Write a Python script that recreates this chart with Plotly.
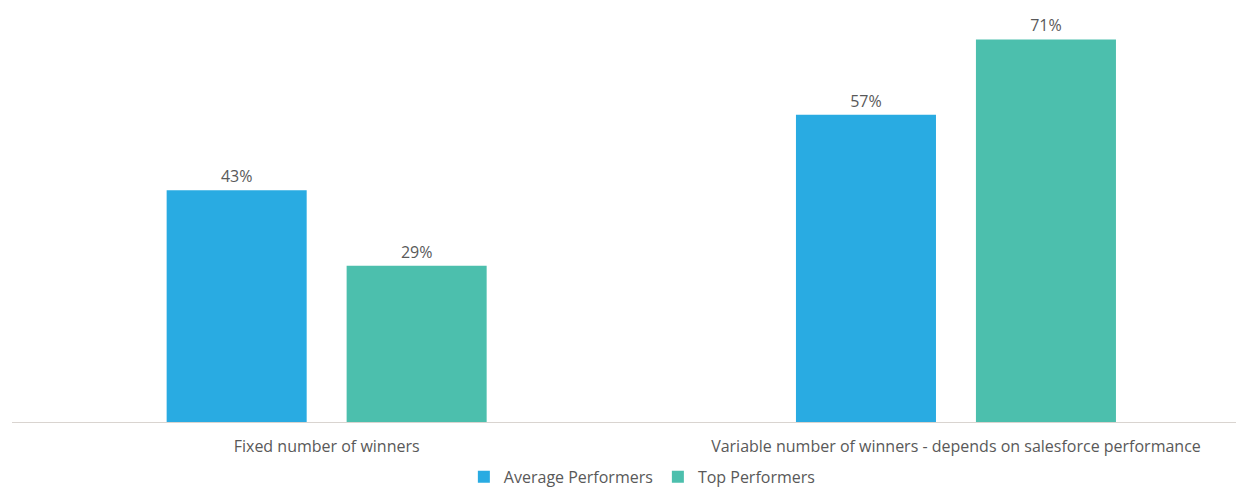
import plotly.graph_objects as go

categories = ["Fixed number of winners",
              "Variable number of winners - depends on salesforce performance"]
series_names = ["Average Performers", "Top Performers"]
average_values = [43, 57]
top_values = [29, 71]
colors = ["#29abe2", "#4cbfad"]

text_color = "#595959"
font_family = "Open Sans, Lato, sans-serif"

fig = go.Figure()
for name, vals, col in zip(series_names, [average_values, top_values], colors):
    fig.add_trace(go.Bar(
        name=name,
        x=categories,
        y=vals,
        marker=dict(color=col, line=dict(width=0)),
        text=[f"{v}%" for v in vals],
        textposition="outside",
        textfont=dict(size=16, color=text_color, family=font_family),
        cliponaxis=False,
    ))

fig.update_layout(
    width=1236,
    height=490,
    margin=dict(l=12, r=0, t=20, b=68, autoexpand=False),
    paper_bgcolor="white",
    plot_bgcolor="white",
    barmode="group",
    bargap=0.428,
    bargroupgap=0.222,
    font=dict(family=font_family, size=16, color=text_color),
    xaxis=dict(
        type="category",
        range=[-0.5, 1.445],
        showline=True,
        linecolor="#d9d4d0",
        linewidth=1,
        ticks="",
        ticklabelstandoff=10,
        automargin=False,
        showgrid=False,
        tickfont=dict(size=16, color=text_color),
        fixedrange=True,
    ),
    yaxis=dict(
        range=[0, 74.6],
        visible=False,
        showgrid=False,
        fixedrange=True,
    ),
    legend=dict(
        orientation="h",
        x=0.515,
        xanchor="center",
        yref="container",
        y=0.027,
        yanchor="middle",
        font=dict(size=16, color=text_color),
        itemwidth=30,
        traceorder="normal",
    ),
    showlegend=True,
)

fig.write_html("out.html")
